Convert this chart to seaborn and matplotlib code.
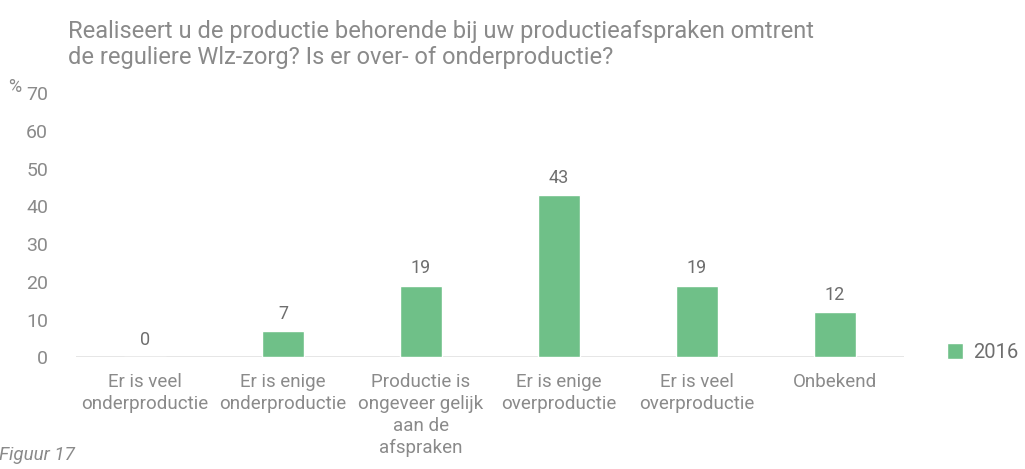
import matplotlib
matplotlib.use("Agg")
import matplotlib.pyplot as plt
import pandas as pd
import seaborn as sns

# data
categories = ["Er is veel\nonderproductie", "Er is enige\nonderproductie",
              "Productie is\nongeveer gelijk\naan de\nafspraken",
              "Er is enige\noverproductie", "Er is veel\noverproductie", "Onbekend"]
values = [0, 7, 19, 43, 19, 12]
years = ["2016"] * 6
yticks = [0, 10, 20, 30, 40, 50, 60, 70]

green = "#6fc088"
grey = "#8a8a8a"

sns.set_style("white")
plt.rcParams["font.family"] = ["Roboto", "DejaVu Sans"]

df = pd.DataFrame({"cat": categories, "val": values, "jaar": years})

fig = plt.figure(figsize=(10.25, 4.69), dpi=100)
ax = fig.add_axes([0.074, 0.238, 0.808, 0.563])

sns.barplot(data=df, x="cat", y="val", hue="jaar", palette=[green],
            width=0.3, saturation=1, ax=ax)

ax.set_ylim(0, 70)
ax.set_yticks(yticks)
ax.set_xlabel("")
ax.set_ylabel("")
sns.despine(ax=ax, left=True, bottom=True)
ax.axhline(0, color="#e2e2e2", lw=1.2, zorder=0)
ax.tick_params(axis="y", length=0, labelsize=14, labelcolor=grey, pad=20)
ax.tick_params(axis="x", length=0, labelsize=13.5, labelcolor=grey, pad=11)
for lab in ax.get_xticklabels():
    lab.set_linespacing(1.3)
    lab.set_verticalalignment("top")

for cont in ax.containers:
    ax.bar_label(cont, fmt="%d", padding=6, fontsize=13, color="#6e6e6e")

ax.legend(loc="center left", bbox_to_anchor=(0.924, 0.248), bbox_transform=fig.transFigure,
          frameon=False, fontsize=14.5, labelcolor="#6e6e6e", handlelength=0.8,
          handleheight=0.8, handletextpad=0.5, borderpad=0, borderaxespad=0)

fig.text(0.066, 0.905, "Realiseert u de productie behorende bij uw productieafspraken omtrent\n"
         "de reguliere Wlz-zorg? Is er over- of onderproductie?",
         fontsize=17, color=grey, va="center", ha="left", linespacing=1.2)
fig.text(0.008, 0.815, "%", fontsize=13, color=grey, va="center")
fig.text(-0.001, 0.03, "Figuur 17", fontsize=13.5, color=grey, style="italic", va="center")

fig.savefig("out.png", dpi=100)
